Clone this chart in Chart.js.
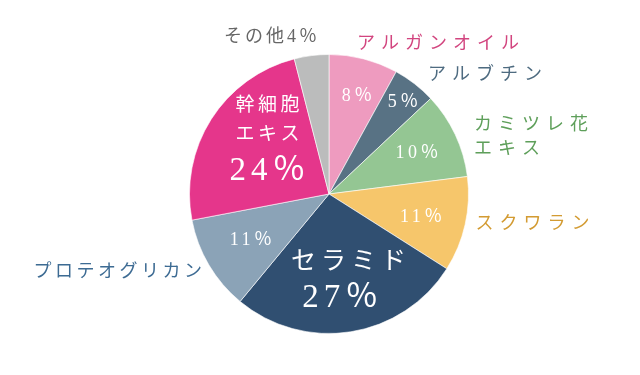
<!DOCTYPE html>
<html>
<head>
<meta charset="utf-8">
<script src="https://cdn.jsdelivr.net/npm/chart.js@4"></script>
<style>
  body { margin: 0; background: #fff; }
</style>
</head>
<body>
<canvas id="grafico" width="640" height="375"></canvas>
<script>
// データ
const categorias = ['アルガンオイル', 'アルブチン', 'カミツレ花エキス', 'スクワラン', 'セラミド', 'プロテオグリカン', '幹細胞エキス', 'その他'];
const valores = [8, 5, 10, 11, 27, 11, 24, 4];
const cores = ['#ee9bbf', '#587284', '#94c693', '#f6c66b', '#304f71', '#8ba3b7', '#e5368b', '#bbbcbc'];

// ラベルの見た目 (中心からの位置は半径に対する比率)
const fonte = '"Liberation Serif", "Noto Sans CJK JP", serif';
const rotulosInternos = [
    [{ t: '8％', x: 0.20, y: -0.70, s: 18 }],
    [{ t: '5％', x: 0.53, y: -0.66, s: 18 }],
    [{ t: '10％', x: 0.63, y: -0.29, s: 18 }],
    [{ t: '11％', x: 0.66, y: 0.17, s: 18 }],
    [{ t: 'セラミド', x: 0.14, y: 0.49, s: 25 }, { t: '27％', x: 0.08, y: 0.75, s: 33 }],
    [{ t: '11％', x: -0.56, y: 0.33, s: 18 }],
    [{ t: '幹細胞', x: -0.44, y: -0.63, s: 19 }, { t: 'エキス', x: -0.44, y: -0.42, s: 19 }, { t: '24％', x: -0.44, y: -0.16, s: 33 }],
    []
];
const rotulosExternos = [
    { linhas: ['アルガンオイル'], x: 0.20, y: -1.07, align: 'left', cor: '#d2457f', esp: 6 },
    { linhas: ['アルブチン'], x: 0.71, y: -0.85, align: 'left', cor: '#4e6b80', esp: 6 },
    { linhas: ['カミツレ花', 'エキス'], x: 1.04, y: -0.49, align: 'left', cor: '#5e9f5a', esp: 6 },
    { linhas: ['スクワラン'], x: 1.05, y: 0.22, align: 'left', cor: '#d39b32', esp: 6 },
    null,
    { linhas: ['プロテオグリカン'], x: -0.91, y: 0.56, align: 'right', cor: '#3d6b93', esp: 3.5 },
    null,
    { linhas: ['その他4％'], x: -0.42, y: -1.12, align: 'center', cor: '#666666', esp: 3 }
];

function escrever(ctx, texto, x, y, align, espaco) {
    ctx.letterSpacing = espaco + 'px';
    const largura = ctx.measureText(texto).width - espaco;
    let x0 = x;
    if (align === 'center') x0 = x - largura / 2;
    if (align === 'right') x0 = x - largura;
    ctx.textAlign = 'left';
    ctx.fillText(texto, x0, y);
}

const pluginRotulos = {
    id: 'rotulos',
    afterDatasetsDraw(chart) {
        const ctx = chart.ctx;
        const arcos = chart.getDatasetMeta(0).data;
        ctx.save();
        ctx.textBaseline = 'middle';
        arcos.forEach((arco, i) => {
            const cx = arco.x, cy = arco.y, r = arco.outerRadius;
            ctx.fillStyle = '#ffffff';
            rotulosInternos[i].forEach(l => {
                ctx.font = l.s + 'px ' + fonte;
                escrever(ctx, l.t, cx + l.x * r, cy + l.y * r, 'center', l.s > 24 ? 5 : 3.5);
            });
            const ext = rotulosExternos[i];
            if (ext) {
                ctx.fillStyle = ext.cor;
                ctx.font = '18px ' + fonte;
                ext.linhas.forEach((linha, k) => {
                    escrever(ctx, linha, cx + ext.x * r, cy + ext.y * r + k * 24, ext.align, ext.esp);
                });
            }
        });
        ctx.restore();
    }
};

const ctx = document.getElementById('grafico').getContext('2d');
new Chart(ctx, {
    type: 'pie',
    data: {
        labels: categorias,
        datasets: [{
            data: valores,
            backgroundColor: cores,
            borderColor: 'rgba(255,255,255,0.6)',
            borderWidth: 1
        }]
    },
    options: {
        responsive: false,
        animation: false,
        layout: { padding: { top: 54, bottom: 41, left: 189, right: 171 } },
        plugins: {
            legend: { display: false },
            tooltip: { enabled: false }
        }
    },
    plugins: [pluginRotulos]
});
</script>
</body>
</html>
